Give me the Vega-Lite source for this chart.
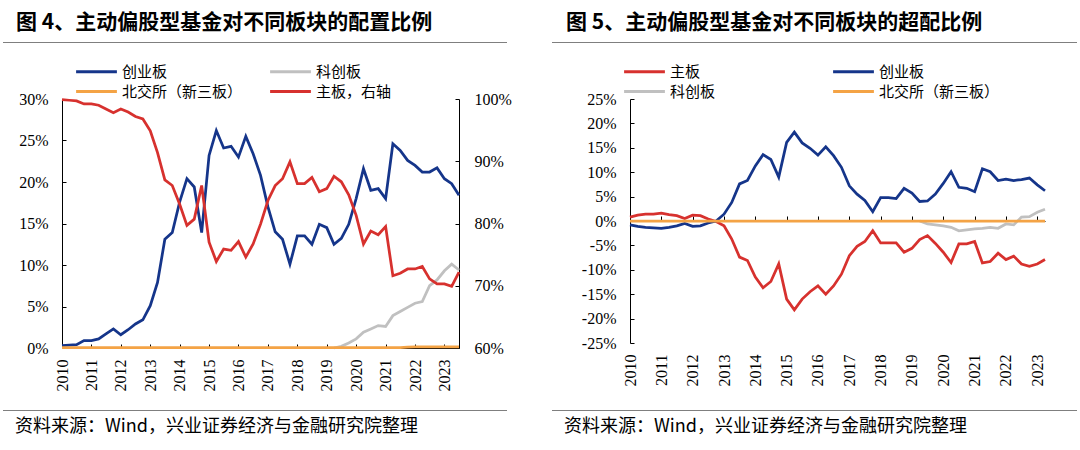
{
  "$schema": "https://vega.github.io/schema/vega-lite/v6.json",
  "padding": {"left": 3, "top": 12, "right": 2, "bottom": 2},
  "background": "white",
  "config": {
    "view": {"stroke": null},
    "concat": {"spacing": 16},
    "font": "Noto Sans CJK SC",
    "axis": {"labelFont": "Liberation Serif", "labelFontSize": 16, "labelColor": "#000", "domainColor": "#000", "tickColor": "#000", "domainWidth": 1, "tickWidth": 1, "grid": false, "title": null, "labelFlush": false, "labelOverlap": false},
    "title": {"font": "Noto Sans CJK SC", "color": "#000"},
    "legend": {"labelFont": "Noto Sans CJK SC", "labelFontSize": 15, "labelColor": "#000", "symbolType": "M-3.4,0H3.4", "symbolSize": 144, "symbolStrokeWidth": 3, "labelOffset": 18, "rowPadding": 4, "padding": 5, "title": null, "direction": "horizontal", "gridAlign": "all"}
  },
  "datasets": {
    "allocation": [
      {"date":"2010-01-01","series":"创业板","value":0.3},{"date":"2010-04-01","series":"创业板","value":0.35},{"date":"2010-07-01","series":"创业板","value":0.4},{"date":"2010-10-01","series":"创业板","value":0.9},
      {"date":"2011-01-01","series":"创业板","value":0.9},{"date":"2011-04-01","series":"创业板","value":1.1},{"date":"2011-07-01","series":"创业板","value":1.7},{"date":"2011-10-01","series":"创业板","value":2.3},
      {"date":"2012-01-01","series":"创业板","value":1.6},{"date":"2012-04-01","series":"创业板","value":2.2},{"date":"2012-07-01","series":"创业板","value":2.9},{"date":"2012-10-01","series":"创业板","value":3.4},
      {"date":"2013-01-01","series":"创业板","value":5.1},{"date":"2013-04-01","series":"创业板","value":7.9},{"date":"2013-07-01","series":"创业板","value":13.1},{"date":"2013-10-01","series":"创业板","value":13.9},
      {"date":"2014-01-01","series":"创业板","value":17.6},{"date":"2014-04-01","series":"创业板","value":20.4},{"date":"2014-07-01","series":"创业板","value":19.4},{"date":"2014-10-01","series":"创业板","value":13.9},
      {"date":"2015-01-01","series":"创业板","value":23.2},{"date":"2015-04-01","series":"创业板","value":26.2},{"date":"2015-07-01","series":"创业板","value":24.1},{"date":"2015-10-01","series":"创业板","value":24.3},
      {"date":"2016-01-01","series":"创业板","value":23.0},{"date":"2016-04-01","series":"创业板","value":25.5},{"date":"2016-07-01","series":"创业板","value":23.4},{"date":"2016-10-01","series":"创业板","value":20.8},
      {"date":"2017-01-01","series":"创业板","value":17.0},{"date":"2017-04-01","series":"创业板","value":14.0},{"date":"2017-07-01","series":"创业板","value":13.1},{"date":"2017-10-01","series":"创业板","value":10.1},
      {"date":"2018-01-01","series":"创业板","value":13.5},{"date":"2018-04-01","series":"创业板","value":13.5},{"date":"2018-07-01","series":"创业板","value":12.5},{"date":"2018-10-01","series":"创业板","value":14.9},
      {"date":"2019-01-01","series":"创业板","value":14.5},{"date":"2019-04-01","series":"创业板","value":12.5},{"date":"2019-07-01","series":"创业板","value":13.2},{"date":"2019-10-01","series":"创业板","value":14.9},
      {"date":"2020-01-01","series":"创业板","value":18.0},{"date":"2020-04-01","series":"创业板","value":21.6},{"date":"2020-07-01","series":"创业板","value":19.0},{"date":"2020-10-01","series":"创业板","value":19.2},
      {"date":"2021-01-01","series":"创业板","value":18.0},{"date":"2021-04-01","series":"创业板","value":24.6},{"date":"2021-07-01","series":"创业板","value":23.8},{"date":"2021-10-01","series":"创业板","value":22.6},
      {"date":"2022-01-01","series":"创业板","value":22.0},{"date":"2022-04-01","series":"创业板","value":21.2},{"date":"2022-07-01","series":"创业板","value":21.2},{"date":"2022-10-01","series":"创业板","value":21.7},
      {"date":"2023-01-01","series":"创业板","value":20.4},{"date":"2023-04-01","series":"创业板","value":19.8},{"date":"2023-07-01","series":"创业板","value":18.4},

      {"date":"2019-04-01","series":"科创板","value":0.0},{"date":"2019-07-01","series":"科创板","value":0.2},{"date":"2019-10-01","series":"科创板","value":0.6},
      {"date":"2020-01-01","series":"科创板","value":1.1},{"date":"2020-04-01","series":"科创板","value":1.9},{"date":"2020-07-01","series":"科创板","value":2.3},{"date":"2020-10-01","series":"科创板","value":2.7},
      {"date":"2021-01-01","series":"科创板","value":2.6},{"date":"2021-04-01","series":"科创板","value":3.9},{"date":"2021-07-01","series":"科创板","value":4.4},{"date":"2021-10-01","series":"科创板","value":4.9},
      {"date":"2022-01-01","series":"科创板","value":5.4},{"date":"2022-04-01","series":"科创板","value":5.6},{"date":"2022-07-01","series":"科创板","value":7.5},{"date":"2022-10-01","series":"科创板","value":8.2},
      {"date":"2023-01-01","series":"科创板","value":9.3},{"date":"2023-04-01","series":"科创板","value":10.1},{"date":"2023-07-01","series":"科创板","value":9.4},

      {"date":"2010-01-01","series":"北交所（新三板）","value":0.05},{"date":"2010-04-01","series":"北交所（新三板）","value":0.05},{"date":"2010-07-01","series":"北交所（新三板）","value":0.05},{"date":"2010-10-01","series":"北交所（新三板）","value":0.05},
      {"date":"2011-01-01","series":"北交所（新三板）","value":0.05},{"date":"2011-04-01","series":"北交所（新三板）","value":0.05},{"date":"2011-07-01","series":"北交所（新三板）","value":0.05},{"date":"2011-10-01","series":"北交所（新三板）","value":0.05},
      {"date":"2012-01-01","series":"北交所（新三板）","value":0.05},{"date":"2012-04-01","series":"北交所（新三板）","value":0.05},{"date":"2012-07-01","series":"北交所（新三板）","value":0.05},{"date":"2012-10-01","series":"北交所（新三板）","value":0.05},
      {"date":"2013-01-01","series":"北交所（新三板）","value":0.05},{"date":"2013-04-01","series":"北交所（新三板）","value":0.05},{"date":"2013-07-01","series":"北交所（新三板）","value":0.05},{"date":"2013-10-01","series":"北交所（新三板）","value":0.05},
      {"date":"2014-01-01","series":"北交所（新三板）","value":0.05},{"date":"2014-04-01","series":"北交所（新三板）","value":0.05},{"date":"2014-07-01","series":"北交所（新三板）","value":0.05},{"date":"2014-10-01","series":"北交所（新三板）","value":0.05},
      {"date":"2015-01-01","series":"北交所（新三板）","value":0.05},{"date":"2015-04-01","series":"北交所（新三板）","value":0.05},{"date":"2015-07-01","series":"北交所（新三板）","value":0.05},{"date":"2015-10-01","series":"北交所（新三板）","value":0.05},
      {"date":"2016-01-01","series":"北交所（新三板）","value":0.05},{"date":"2016-04-01","series":"北交所（新三板）","value":0.05},{"date":"2016-07-01","series":"北交所（新三板）","value":0.05},{"date":"2016-10-01","series":"北交所（新三板）","value":0.05},
      {"date":"2017-01-01","series":"北交所（新三板）","value":0.05},{"date":"2017-04-01","series":"北交所（新三板）","value":0.05},{"date":"2017-07-01","series":"北交所（新三板）","value":0.05},{"date":"2017-10-01","series":"北交所（新三板）","value":0.05},
      {"date":"2018-01-01","series":"北交所（新三板）","value":0.05},{"date":"2018-04-01","series":"北交所（新三板）","value":0.05},{"date":"2018-07-01","series":"北交所（新三板）","value":0.05},{"date":"2018-10-01","series":"北交所（新三板）","value":0.05},
      {"date":"2019-01-01","series":"北交所（新三板）","value":0.05},{"date":"2019-04-01","series":"北交所（新三板）","value":0.05},{"date":"2019-07-01","series":"北交所（新三板）","value":0.05},{"date":"2019-10-01","series":"北交所（新三板）","value":0.05},
      {"date":"2020-01-01","series":"北交所（新三板）","value":0.05},{"date":"2020-04-01","series":"北交所（新三板）","value":0.05},{"date":"2020-07-01","series":"北交所（新三板）","value":0.05},{"date":"2020-10-01","series":"北交所（新三板）","value":0.05},
      {"date":"2021-01-01","series":"北交所（新三板）","value":0.05},{"date":"2021-04-01","series":"北交所（新三板）","value":0.05},{"date":"2021-07-01","series":"北交所（新三板）","value":0.05},{"date":"2021-10-01","series":"北交所（新三板）","value":0.1},
      {"date":"2022-01-01","series":"北交所（新三板）","value":0.15},{"date":"2022-04-01","series":"北交所（新三板）","value":0.15},{"date":"2022-07-01","series":"北交所（新三板）","value":0.15},{"date":"2022-10-01","series":"北交所（新三板）","value":0.15},
      {"date":"2023-01-01","series":"北交所（新三板）","value":0.15},{"date":"2023-04-01","series":"北交所（新三板）","value":0.15},{"date":"2023-07-01","series":"北交所（新三板）","value":0.15},

      {"date":"2010-01-01","series":"主板","value":99.9},{"date":"2010-04-01","series":"主板","value":99.8},{"date":"2010-07-01","series":"主板","value":99.7},{"date":"2010-10-01","series":"主板","value":99.2},
      {"date":"2011-01-01","series":"主板","value":99.2},{"date":"2011-04-01","series":"主板","value":99.0},{"date":"2011-07-01","series":"主板","value":98.4},{"date":"2011-10-01","series":"主板","value":97.8},
      {"date":"2012-01-01","series":"主板","value":98.4},{"date":"2012-04-01","series":"主板","value":97.9},{"date":"2012-07-01","series":"主板","value":97.2},{"date":"2012-10-01","series":"主板","value":96.8},
      {"date":"2013-01-01","series":"主板","value":94.9},{"date":"2013-04-01","series":"主板","value":91.4},{"date":"2013-07-01","series":"主板","value":87.0},{"date":"2013-10-01","series":"主板","value":86.1},
      {"date":"2014-01-01","series":"主板","value":83.1},{"date":"2014-04-01","series":"主板","value":79.7},{"date":"2014-07-01","series":"主板","value":80.7},{"date":"2014-10-01","series":"主板","value":86.1},
      {"date":"2015-01-01","series":"主板","value":77.0},{"date":"2015-04-01","series":"主板","value":73.9},{"date":"2015-07-01","series":"主板","value":75.9},{"date":"2015-10-01","series":"主板","value":75.7},
      {"date":"2016-01-01","series":"主板","value":77.1},{"date":"2016-04-01","series":"主板","value":74.6},{"date":"2016-07-01","series":"主板","value":76.7},{"date":"2016-10-01","series":"主板","value":79.9},
      {"date":"2017-01-01","series":"主板","value":83.7},{"date":"2017-04-01","series":"主板","value":86.1},{"date":"2017-07-01","series":"主板","value":87.2},{"date":"2017-10-01","series":"主板","value":89.9},
      {"date":"2018-01-01","series":"主板","value":86.4},{"date":"2018-04-01","series":"主板","value":86.4},{"date":"2018-07-01","series":"主板","value":87.4},{"date":"2018-10-01","series":"主板","value":85.1},
      {"date":"2019-01-01","series":"主板","value":85.6},{"date":"2019-04-01","series":"主板","value":87.6},{"date":"2019-07-01","series":"主板","value":86.7},{"date":"2019-10-01","series":"主板","value":84.6},
      {"date":"2020-01-01","series":"主板","value":81.3},{"date":"2020-04-01","series":"主板","value":76.7},{"date":"2020-07-01","series":"主板","value":78.8},{"date":"2020-10-01","series":"主板","value":78.2},
      {"date":"2021-01-01","series":"主板","value":79.5},{"date":"2021-04-01","series":"主板","value":71.6},{"date":"2021-07-01","series":"主板","value":72.0},{"date":"2021-10-01","series":"主板","value":72.7},
      {"date":"2022-01-01","series":"主板","value":72.7},{"date":"2022-04-01","series":"主板","value":73.1},{"date":"2022-07-01","series":"主板","value":71.1},{"date":"2022-10-01","series":"主板","value":70.3},
      {"date":"2023-01-01","series":"主板","value":70.3},{"date":"2023-04-01","series":"主板","value":69.9},{"date":"2023-07-01","series":"主板","value":72.2}
    ],
    "overweight": [
      {"date":"2010-01-01","series":"主板","value":0.8},{"date":"2010-04-01","series":"主板","value":1.2},{"date":"2010-07-01","series":"主板","value":1.4},{"date":"2010-10-01","series":"主板","value":1.4},
      {"date":"2011-01-01","series":"主板","value":1.6},{"date":"2011-04-01","series":"主板","value":1.3},{"date":"2011-07-01","series":"主板","value":1.1},{"date":"2011-10-01","series":"主板","value":0.5},
      {"date":"2012-01-01","series":"主板","value":1.2},{"date":"2012-04-01","series":"主板","value":1.1},{"date":"2012-07-01","series":"主板","value":0.4},{"date":"2012-10-01","series":"主板","value":-0.1},
      {"date":"2013-01-01","series":"主板","value":-1.0},{"date":"2013-04-01","series":"主板","value":-3.7},{"date":"2013-07-01","series":"主板","value":-7.4},{"date":"2013-10-01","series":"主板","value":-8.1},
      {"date":"2014-01-01","series":"主板","value":-11.5},{"date":"2014-04-01","series":"主板","value":-13.7},{"date":"2014-07-01","series":"主板","value":-12.4},{"date":"2014-10-01","series":"主板","value":-8.8},
      {"date":"2015-01-01","series":"主板","value":-16.0},{"date":"2015-04-01","series":"主板","value":-18.2},{"date":"2015-07-01","series":"主板","value":-16.0},{"date":"2015-10-01","series":"主板","value":-14.5},
      {"date":"2016-01-01","series":"主板","value":-13.3},{"date":"2016-04-01","series":"主板","value":-15.0},{"date":"2016-07-01","series":"主板","value":-13.3},{"date":"2016-10-01","series":"主板","value":-10.9},
      {"date":"2017-01-01","series":"主板","value":-7.1},{"date":"2017-04-01","series":"主板","value":-5.2},{"date":"2017-07-01","series":"主板","value":-4.2},{"date":"2017-10-01","series":"主板","value":-2.0},
      {"date":"2018-01-01","series":"主板","value":-4.5},{"date":"2018-04-01","series":"主板","value":-4.5},{"date":"2018-07-01","series":"主板","value":-4.5},{"date":"2018-10-01","series":"主板","value":-6.4},
      {"date":"2019-01-01","series":"主板","value":-5.6},{"date":"2019-04-01","series":"主板","value":-3.8},{"date":"2019-07-01","series":"主板","value":-3.0},{"date":"2019-10-01","series":"主板","value":-4.6},
      {"date":"2020-01-01","series":"主板","value":-6.4},{"date":"2020-04-01","series":"主板","value":-8.5},{"date":"2020-07-01","series":"主板","value":-4.7},{"date":"2020-10-01","series":"主板","value":-4.7},
      {"date":"2021-01-01","series":"主板","value":-4.2},{"date":"2021-04-01","series":"主板","value":-8.6},{"date":"2021-07-01","series":"主板","value":-8.3},{"date":"2021-10-01","series":"主板","value":-6.6},
      {"date":"2022-01-01","series":"主板","value":-7.9},{"date":"2022-04-01","series":"主板","value":-7.2},{"date":"2022-07-01","series":"主板","value":-8.8},{"date":"2022-10-01","series":"主板","value":-9.3},
      {"date":"2023-01-01","series":"主板","value":-8.8},{"date":"2023-04-01","series":"主板","value":-7.9},

      {"date":"2010-01-01","series":"创业板","value":-0.8},{"date":"2010-04-01","series":"创业板","value":-1.1},{"date":"2010-07-01","series":"创业板","value":-1.3},{"date":"2010-10-01","series":"创业板","value":-1.4},
      {"date":"2011-01-01","series":"创业板","value":-1.5},{"date":"2011-04-01","series":"创业板","value":-1.3},{"date":"2011-07-01","series":"创业板","value":-1.0},{"date":"2011-10-01","series":"创业板","value":-0.5},
      {"date":"2012-01-01","series":"创业板","value":-1.1},{"date":"2012-04-01","series":"创业板","value":-1.0},{"date":"2012-07-01","series":"创业板","value":-0.4},{"date":"2012-10-01","series":"创业板","value":0.0},
      {"date":"2013-01-01","series":"创业板","value":1.4},{"date":"2013-04-01","series":"创业板","value":3.8},{"date":"2013-07-01","series":"创业板","value":7.6},{"date":"2013-10-01","series":"创业板","value":8.3},
      {"date":"2014-01-01","series":"创业板","value":11.3},{"date":"2014-04-01","series":"创业板","value":13.6},{"date":"2014-07-01","series":"创业板","value":12.6},{"date":"2014-10-01","series":"创业板","value":9.0},
      {"date":"2015-01-01","series":"创业板","value":16.1},{"date":"2015-04-01","series":"创业板","value":18.2},{"date":"2015-07-01","series":"创业板","value":16.0},{"date":"2015-10-01","series":"创业板","value":14.9},
      {"date":"2016-01-01","series":"创业板","value":13.5},{"date":"2016-04-01","series":"创业板","value":15.2},{"date":"2016-07-01","series":"创业板","value":13.4},{"date":"2016-10-01","series":"创业板","value":11.0},
      {"date":"2017-01-01","series":"创业板","value":7.2},{"date":"2017-04-01","series":"创业板","value":5.5},{"date":"2017-07-01","series":"创业板","value":4.2},{"date":"2017-10-01","series":"创业板","value":1.9},
      {"date":"2018-01-01","series":"创业板","value":4.8},{"date":"2018-04-01","series":"创业板","value":4.8},{"date":"2018-07-01","series":"创业板","value":4.6},{"date":"2018-10-01","series":"创业板","value":6.7},
      {"date":"2019-01-01","series":"创业板","value":5.7},{"date":"2019-04-01","series":"创业板","value":4.0},{"date":"2019-07-01","series":"创业板","value":4.1},{"date":"2019-10-01","series":"创业板","value":5.5},
      {"date":"2020-01-01","series":"创业板","value":7.7},{"date":"2020-04-01","series":"创业板","value":10.1},{"date":"2020-07-01","series":"创业板","value":6.9},{"date":"2020-10-01","series":"创业板","value":6.7},
      {"date":"2021-01-01","series":"创业板","value":6.0},{"date":"2021-04-01","series":"创业板","value":10.7},{"date":"2021-07-01","series":"创业板","value":10.1},{"date":"2021-10-01","series":"创业板","value":8.3},
      {"date":"2022-01-01","series":"创业板","value":8.6},{"date":"2022-04-01","series":"创业板","value":8.3},{"date":"2022-07-01","series":"创业板","value":8.5},{"date":"2022-10-01","series":"创业板","value":8.8},
      {"date":"2023-01-01","series":"创业板","value":7.4},{"date":"2023-04-01","series":"创业板","value":6.2},

      {"date":"2019-04-01","series":"科创板","value":0.0},{"date":"2019-07-01","series":"科创板","value":-0.6},{"date":"2019-10-01","series":"科创板","value":-0.8},
      {"date":"2020-01-01","series":"科创板","value":-1.0},{"date":"2020-04-01","series":"科创板","value":-1.3},{"date":"2020-07-01","series":"科创板","value":-2.0},{"date":"2020-10-01","series":"科创板","value":-1.8},
      {"date":"2021-01-01","series":"科创板","value":-1.6},{"date":"2021-04-01","series":"科创板","value":-1.5},{"date":"2021-07-01","series":"科创板","value":-1.3},{"date":"2021-10-01","series":"科创板","value":-1.5},
      {"date":"2022-01-01","series":"科创板","value":-0.6},{"date":"2022-04-01","series":"科创板","value":-0.8},{"date":"2022-07-01","series":"科创板","value":0.8},{"date":"2022-10-01","series":"科创板","value":0.9},
      {"date":"2023-01-01","series":"科创板","value":1.8},{"date":"2023-04-01","series":"科创板","value":2.4},

      {"date":"2010-01-01","series":"北交所（新三板）","value":0},{"date":"2010-04-01","series":"北交所（新三板）","value":0},{"date":"2010-07-01","series":"北交所（新三板）","value":0},{"date":"2010-10-01","series":"北交所（新三板）","value":0},
      {"date":"2011-01-01","series":"北交所（新三板）","value":0},{"date":"2011-04-01","series":"北交所（新三板）","value":0},{"date":"2011-07-01","series":"北交所（新三板）","value":0},{"date":"2011-10-01","series":"北交所（新三板）","value":0},
      {"date":"2012-01-01","series":"北交所（新三板）","value":0},{"date":"2012-04-01","series":"北交所（新三板）","value":0},{"date":"2012-07-01","series":"北交所（新三板）","value":0},{"date":"2012-10-01","series":"北交所（新三板）","value":0},
      {"date":"2013-01-01","series":"北交所（新三板）","value":0},{"date":"2013-04-01","series":"北交所（新三板）","value":0},{"date":"2013-07-01","series":"北交所（新三板）","value":0},{"date":"2013-10-01","series":"北交所（新三板）","value":0},
      {"date":"2014-01-01","series":"北交所（新三板）","value":0},{"date":"2014-04-01","series":"北交所（新三板）","value":0},{"date":"2014-07-01","series":"北交所（新三板）","value":0},{"date":"2014-10-01","series":"北交所（新三板）","value":0},
      {"date":"2015-01-01","series":"北交所（新三板）","value":0},{"date":"2015-04-01","series":"北交所（新三板）","value":0},{"date":"2015-07-01","series":"北交所（新三板）","value":0},{"date":"2015-10-01","series":"北交所（新三板）","value":0},
      {"date":"2016-01-01","series":"北交所（新三板）","value":0},{"date":"2016-04-01","series":"北交所（新三板）","value":0},{"date":"2016-07-01","series":"北交所（新三板）","value":0},{"date":"2016-10-01","series":"北交所（新三板）","value":0},
      {"date":"2017-01-01","series":"北交所（新三板）","value":0},{"date":"2017-04-01","series":"北交所（新三板）","value":0},{"date":"2017-07-01","series":"北交所（新三板）","value":0},{"date":"2017-10-01","series":"北交所（新三板）","value":0},
      {"date":"2018-01-01","series":"北交所（新三板）","value":0},{"date":"2018-04-01","series":"北交所（新三板）","value":0},{"date":"2018-07-01","series":"北交所（新三板）","value":0},{"date":"2018-10-01","series":"北交所（新三板）","value":0},
      {"date":"2019-01-01","series":"北交所（新三板）","value":0},{"date":"2019-04-01","series":"北交所（新三板）","value":0},{"date":"2019-07-01","series":"北交所（新三板）","value":0},{"date":"2019-10-01","series":"北交所（新三板）","value":0},
      {"date":"2020-01-01","series":"北交所（新三板）","value":0},{"date":"2020-04-01","series":"北交所（新三板）","value":0},{"date":"2020-07-01","series":"北交所（新三板）","value":0},{"date":"2020-10-01","series":"北交所（新三板）","value":0},
      {"date":"2021-01-01","series":"北交所（新三板）","value":0},{"date":"2021-04-01","series":"北交所（新三板）","value":0},{"date":"2021-07-01","series":"北交所（新三板）","value":0},{"date":"2021-10-01","series":"北交所（新三板）","value":0},
      {"date":"2022-01-01","series":"北交所（新三板）","value":0},{"date":"2022-04-01","series":"北交所（新三板）","value":0},{"date":"2022-07-01","series":"北交所（新三板）","value":0},{"date":"2022-10-01","series":"北交所（新三板）","value":0},
      {"date":"2023-01-01","series":"北交所（新三板）","value":0},{"date":"2023-04-01","series":"北交所（新三板）","value":0}
    ]
  },
  "resolve": {"scale": {"color": "independent"}, "legend": {"color": "independent"}},
  "spacing": 40,
  "hconcat": [
    {
      "columns": 1,
      "spacing": 16,
      "resolve": {"scale": {"color": "independent"}, "legend": {"color": "independent"}},
      "concat": [
        {
          "width": 504, "height": 1,
          "view": {"fill": "#7f7f7f", "stroke": null},
          "title": {"text": "图 4、主动偏股型基金对不同板块的配置比例", "anchor": "start", "dx": 13, "offset": -12, "fontSize": 21, "fontWeight": "bold", "baseline": "bottom"},
          "data": {"values": [{}]},
          "mark": {"type": "text", "text": "", "fontSize": 0}
        },
        {
          "width": 504, "height": 249,
          "data": {"name": "allocation"},
          "resolve": {"scale": {"y": "independent"}},
          "layer": [
            {
              "transform": [{"filter": "datum.series != '主板'"}],
              "mark": {"type": "line", "strokeWidth": 2.75},
              "encoding": {
                "x": {"field": "date", "type": "temporal", "scale": {"type": "utc", "domain": ["2010-01-01", "2023-07-01"], "nice": false, "range": [59, 456]},
                      "axis": {"format": "%Y", "tickCount": {"interval": "year", "step": 1}, "labelAngle": 270, "labelAlign": "right", "labelBaseline": "middle", "tickSize": -4, "labelPadding": 15, "minExtent": 46, "maxExtent": 46, "labelOverlap": false}},
                "y": {"field": "value", "type": "quantitative", "scale": {"domain": [0, 30], "nice": false},
                      "axis": {"offset": -59, "values": [0, 5, 10, 15, 20, 25, 30], "labelExpr": "datum.value + '%'", "tickSize": -4, "labelPadding": 18, "labelOverlap": false}},
                "color": {"field": "series", "type": "nominal",
                          "scale": {"domain": ["创业板", "科创板", "北交所（新三板）", "主板"], "range": ["#15358A", "#C0C0C0", "#F4A345", "#D7312E"]},
                          "legend": {"orient": "none", "legendX": 81, "legendY": -40, "columns": 2, "columnPadding": 21, "labelExpr": "datum.label == '主板' ? '主板，右轴' : datum.label"}}
              }
            },
            {
              "transform": [{"filter": "datum.series == '主板'"}],
              "mark": {"type": "line", "strokeWidth": 2.75},
              "encoding": {
                "x": {"field": "date", "type": "temporal"},
                "y": {"field": "value", "type": "quantitative", "scale": {"domain": [60, 100], "nice": false},
                      "axis": {"orient": "right", "offset": -48, "values": [60, 70, 80, 90, 100], "labelExpr": "datum.value + '%'", "tickSize": -4, "labelPadding": 19, "labelOverlap": false}},
                "color": {"field": "series", "type": "nominal"}
              }
            }
          ]
        },
        {
          "width": 504, "height": 1,
          "view": {"fill": "#7f7f7f", "stroke": null},
          "title": {"text": "资料来源：Wind，兴业证券经济与金融研究院整理", "orient": "bottom", "anchor": "start", "dx": 12, "offset": 7, "fontSize": 18, "fontWeight": "normal", "baseline": "top"},
          "data": {"values": [{}]},
          "mark": {"type": "text", "text": "", "fontSize": 0}
        }
      ]
    },
    {
      "columns": 1,
      "spacing": 16,
      "resolve": {"scale": {"color": "independent"}, "legend": {"color": "independent"}},
      "concat": [
        {
          "width": 525, "height": 1,
          "view": {"fill": "#7f7f7f", "stroke": null},
          "title": {"text": "图 5、主动偏股型基金对不同板块的超配比例", "anchor": "start", "dx": 14, "offset": -12, "fontSize": 21, "fontWeight": "bold", "baseline": "bottom"},
          "data": {"values": [{}]},
          "mark": {"type": "text", "text": "", "fontSize": 0}
        },
        {
          "width": 525, "height": 244,
          "data": {"name": "overweight"},
          "resolve": {"axis": {"x": "independent", "y": "independent"}},
          "layer": [
            {
              "transform": [{"filter": "datum.series != '北交所（新三板）'"}],
              "mark": {"type": "line", "strokeWidth": 2.75},
              "encoding": {
                "x": {"field": "date", "type": "temporal", "scale": {"type": "utc", "domain": ["2010-01-01", "2023-04-01"], "nice": false, "range": [78, 493]},
                      "axis": {"format": "%Y", "tickCount": {"interval": "year", "step": 1}, "labelAngle": 270, "labelAlign": "right", "labelBaseline": "middle", "domain": false, "ticks": false, "labelPadding": 11, "minExtent": 51, "maxExtent": 51, "labelOverlap": false}},
                "y": {"field": "value", "type": "quantitative", "scale": {"domain": [-25, 25], "nice": false},
                      "axis": {"offset": -78, "values": [-25, -20, -15, -10, -5, 0, 5, 10, 15, 20, 25], "labelExpr": "datum.value + '%'", "tickSize": -4, "labelPadding": 18, "labelOverlap": false}},
                "color": {"field": "series", "type": "nominal",
                          "scale": {"domain": ["主板", "创业板", "科创板", "北交所（新三板）"], "range": ["#D7312E", "#15358A", "#C0C0C0", "#F4A345"]},
                          "legend": {"orient": "none", "legendX": 80, "legendY": -40, "columns": 2, "columnPadding": 36}}
              }
            },
            {
              "transform": [{"filter": "datum.series == '北交所（新三板）'"}],
              "mark": {"type": "line", "strokeWidth": 2.75},
              "encoding": {
                "x": {"field": "date", "type": "temporal",
                      "axis": {"orient": "top", "offset": -122, "labels": false, "tickCount": {"interval": "year", "step": 1}, "tickSize": 5, "domain": true}},
                "y": {"field": "value", "type": "quantitative", "axis": null},
                "color": {"field": "series", "type": "nominal"}
              }
            }
          ]
        },
        {
          "width": 525, "height": 1,
          "view": {"fill": "#7f7f7f", "stroke": null},
          "title": {"text": "资料来源：Wind，兴业证券经济与金融研究院整理", "orient": "bottom", "anchor": "start", "dx": 12, "offset": 7, "fontSize": 18, "fontWeight": "normal", "baseline": "top"},
          "data": {"values": [{}]},
          "mark": {"type": "text", "text": "", "fontSize": 0}
        }
      ]
    }
  ]
}
